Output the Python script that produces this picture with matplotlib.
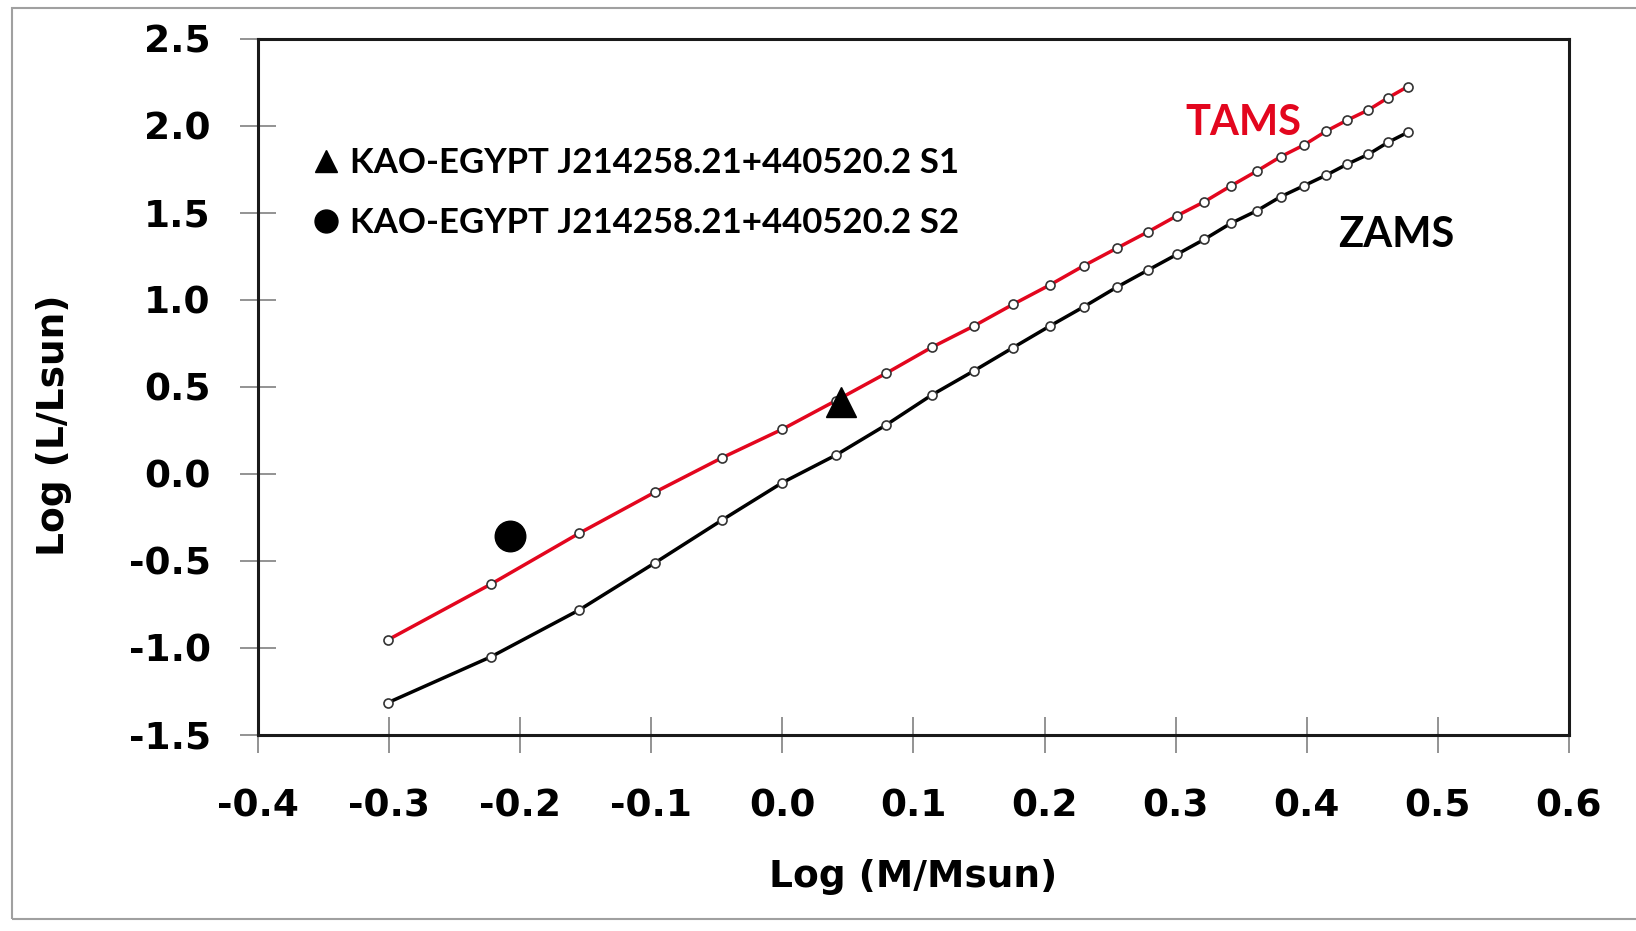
import matplotlib
matplotlib.use("Agg")
from matplotlib import pyplot as plt
from matplotlib.patches import Rectangle

plt.rcParams['font.family'] = ['DejaVu Sans']
plt.rcParams['font.weight'] = 'bold'

# log(M/Msun) of the track points
log_mass = [-0.301, -0.222, -0.155, -0.097, -0.046, 0.0, 0.041, 0.079, 0.114,
            0.146, 0.176, 0.204, 0.230, 0.255, 0.279, 0.301, 0.322, 0.342,
            0.362, 0.380, 0.398, 0.415, 0.431, 0.447, 0.462, 0.477]
tams_logl = [-0.956, -0.634, -0.343, -0.106, 0.091, 0.255, 0.420, 0.576, 0.726,
             0.848, 0.973, 1.084, 1.195, 1.295, 1.390, 1.482, 1.563, 1.653,
             1.739, 1.821, 1.889, 1.969, 2.032, 2.090, 2.160, 2.224]
zams_logl = [-1.317, -1.052, -0.784, -0.512, -0.267, -0.052, 0.107, 0.279, 0.452,
             0.590, 0.724, 0.848, 0.959, 1.071, 1.170, 1.260, 1.347, 1.438,
             1.511, 1.591, 1.655, 1.716, 1.779, 1.835, 1.904, 1.961]

s1 = (0.045, 0.41)
s2 = (-0.208, -0.36)
star_name = "KAO-EGYPT J214258.21+440520.2"

xticks = [-0.4, -0.3, -0.2, -0.1, 0.0, 0.1, 0.2, 0.3, 0.4, 0.5, 0.6]
yticks = [-1.5, -1.0, -0.5, 0.0, 0.5, 1.0, 1.5, 2.0, 2.5]

red = '#e3061e'

fig = plt.figure(figsize=(16.36, 9.31), dpi=100)
ax = fig.add_axes([0.1577, 0.211, 0.8013, 0.7475])

ax.plot(log_mass, zams_logl, color='black', lw=2.5, marker='o', ms=6.5,
        mfc='white', mec='#333333', mew=1.2, zorder=2)
ax.plot(log_mass, tams_logl, color=red, lw=2.5, marker='o', ms=6.5,
        mfc='white', mec='#333333', mew=1.2, zorder=2)

ax.plot(s1[0], s1[1], ls='none', marker='^', ms=21.5, color='black', zorder=3,
        label=star_name + " S1")
ax.plot(s2[0], s2[1], ls='none', marker='o', ms=22, color='black', zorder=3,
        label=star_name + " S2")

ax.text(0.3517, 1.946, "TAMS", color=red, fontsize=30, fontweight='bold',
        family='Lato', ha='center', va='baseline')
ax.text(0.4679, 1.304, "ZAMS", color='black', fontsize=30, fontweight='bold',
        family='Lato', ha='center', va='baseline')

leg = ax.legend(loc='upper left', bbox_to_anchor=(0.0333, 0.864), frameon=False,
                prop={'family': 'Lato', 'weight': 'bold', 'size': 25},
                markerscale=0.75, handlelength=0.6, handletextpad=0.4,
                labelspacing=0.8, borderaxespad=0)

ax.set_xlim(-0.4, 0.6)
ax.set_ylim(-1.5, 2.5)
ax.set_xticks(xticks)
ax.set_yticks(yticks)
ax.set_xticklabels(["%.1f" % v for v in xticks])
ax.set_yticklabels(["%.1f" % v for v in yticks])
ax.tick_params(direction='inout', length=26, width=1.2, color='#808080',
               labelsize=27, pad=21)
ax.tick_params(axis='x', pad=26)
for s in ax.spines.values():
    s.set_linewidth(2.2)
    s.set_color('#1a1a1a')

ax.set_xlabel("Log (M/Msun)", fontsize=27, fontweight='bold', labelpad=25)
ax.set_ylabel("Log (L/Lsun)", fontsize=27, fontweight='bold')
ax.yaxis.set_label_coords(-0.142, 0.445)

# thin grey frame of the original picture (open on the right)
fig.patches.append(Rectangle((12 / 1636, 12 / 931), 1640 / 1636, 911 / 931,
                             transform=fig.transFigure, fill=False,
                             edgecolor='#a0a0a0', lw=1.5))

fig.savefig("out.png", dpi=100)
